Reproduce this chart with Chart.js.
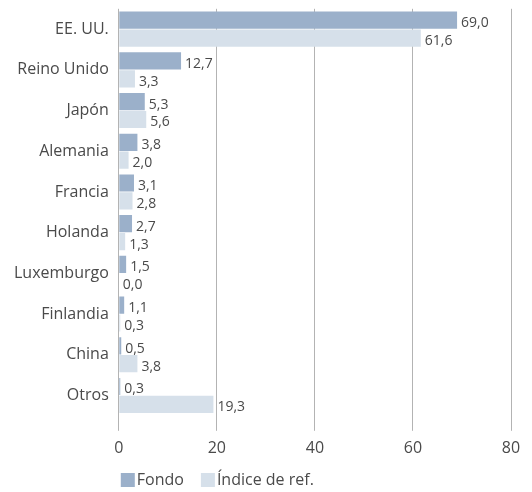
<!DOCTYPE html>
<html lang="es">
<head>
  <meta charset="UTF-8">
  <title>Distribución por países</title>
  <script src="https://cdn.jsdelivr.net/npm/chart.js"></script>
  <style>
    html, body { margin: 0; padding: 0; background: #fff; }
    #wrap { width: 532px; height: 492px; }
  </style>
</head>
<body>
  <div id="wrap"><canvas id="paisesChart"></canvas></div>

  <script>
    // Datos del gráfico
    const paises = ['EE. UU.', 'Reino Unido', 'Japón', 'Alemania', 'Francia', 'Holanda', 'Luxemburgo', 'Finlandia', 'China', 'Otros'];
    const fondo = [69.0, 12.7, 5.3, 3.8, 3.1, 2.7, 1.5, 1.1, 0.5, 0.3];
    const indice = [61.6, 3.3, 5.6, 2.0, 2.8, 1.3, 0.0, 0.3, 3.8, 19.3];
    const seriesNombres = ['Fondo', 'Índice de ref.'];
    const colores = ['#9bb0ca', '#d6e0ea'];

    const txtColor = '#4a4a4a';
    const fuente = '"Open Sans", Lato, sans-serif';

    // Etiquetas de valor al final de cada barra
    const etiquetasPlugin = {
      id: 'etiquetas',
      afterDatasetsDraw(chart) {
        const ctx = chart.ctx;
        ctx.save();
        ctx.font = '14px ' + fuente;
        ctx.fillStyle = txtColor;
        ctx.textAlign = 'left';
        ctx.textBaseline = 'middle';
        chart.data.datasets.forEach((ds, i) => {
          chart.getDatasetMeta(i).data.forEach((bar, j) => {
            const txt = ds.data[j].toFixed(1).replace('.', ',');
            ctx.fillText(txt, bar.x + 4, bar.y + 3);
          });
        });
        ctx.restore();
      }
    };

    // Leyenda alineada con el eje
    const leyendaPlugin = {
      id: 'leyenda',
      afterDraw(chart) {
        const ctx = chart.ctx;
        let x = chart.scales.x.left + 2;
        const y = 480;
        ctx.save();
        ctx.font = '16px ' + fuente;
        ctx.textBaseline = 'middle';
        ctx.textAlign = 'left';
        seriesNombres.forEach((nombre, i) => {
          ctx.fillStyle = colores[i];
          ctx.fillRect(x, y - 7, 14, 14);
          ctx.fillStyle = txtColor;
          ctx.fillText(nombre, x + 16, y);
          x += 16 + ctx.measureText(nombre).width + 17;
        });
        ctx.restore();
      }
    };

    const ctx = document.getElementById('paisesChart').getContext('2d');
    new Chart(ctx, {
      type: 'bar',
      data: {
        labels: paises,
        datasets: [
          { label: seriesNombres[0], data: fondo, backgroundColor: colores[0] },
          { label: seriesNombres[1], data: indice, backgroundColor: colores[1] }
        ]
      },
      options: {
        indexAxis: 'y',
        responsive: true,
        maintainAspectRatio: false,
        animation: false,
        datasets: {
          bar: { barPercentage: 0.96, categoryPercentage: 0.88 }
        },
        layout: { padding: { top: 0, right: 21, bottom: 26, left: 14 } },
        plugins: {
          legend: { display: false },
          tooltip: { enabled: false }
        },
        scales: {
          x: {
            min: 0,
            max: 80,
            ticks: { stepSize: 20, color: txtColor, font: { family: fuente, size: 16 }, padding: 8 },
            grid: { color: '#b3b3b3', lineWidth: 1, tickLength: 15, tickColor: '#b3b3b3' },
            border: { display: false }
          },
          y: {
            ticks: { color: txtColor, font: { family: fuente, size: 16, lineHeight: 1.1 }, padding: 0 },
            grid: { display: false, tickLength: 10 },
            border: { display: false }
          }
        }
      },
      plugins: [etiquetasPlugin, leyendaPlugin]
    });
  </script>
</body>
</html>
